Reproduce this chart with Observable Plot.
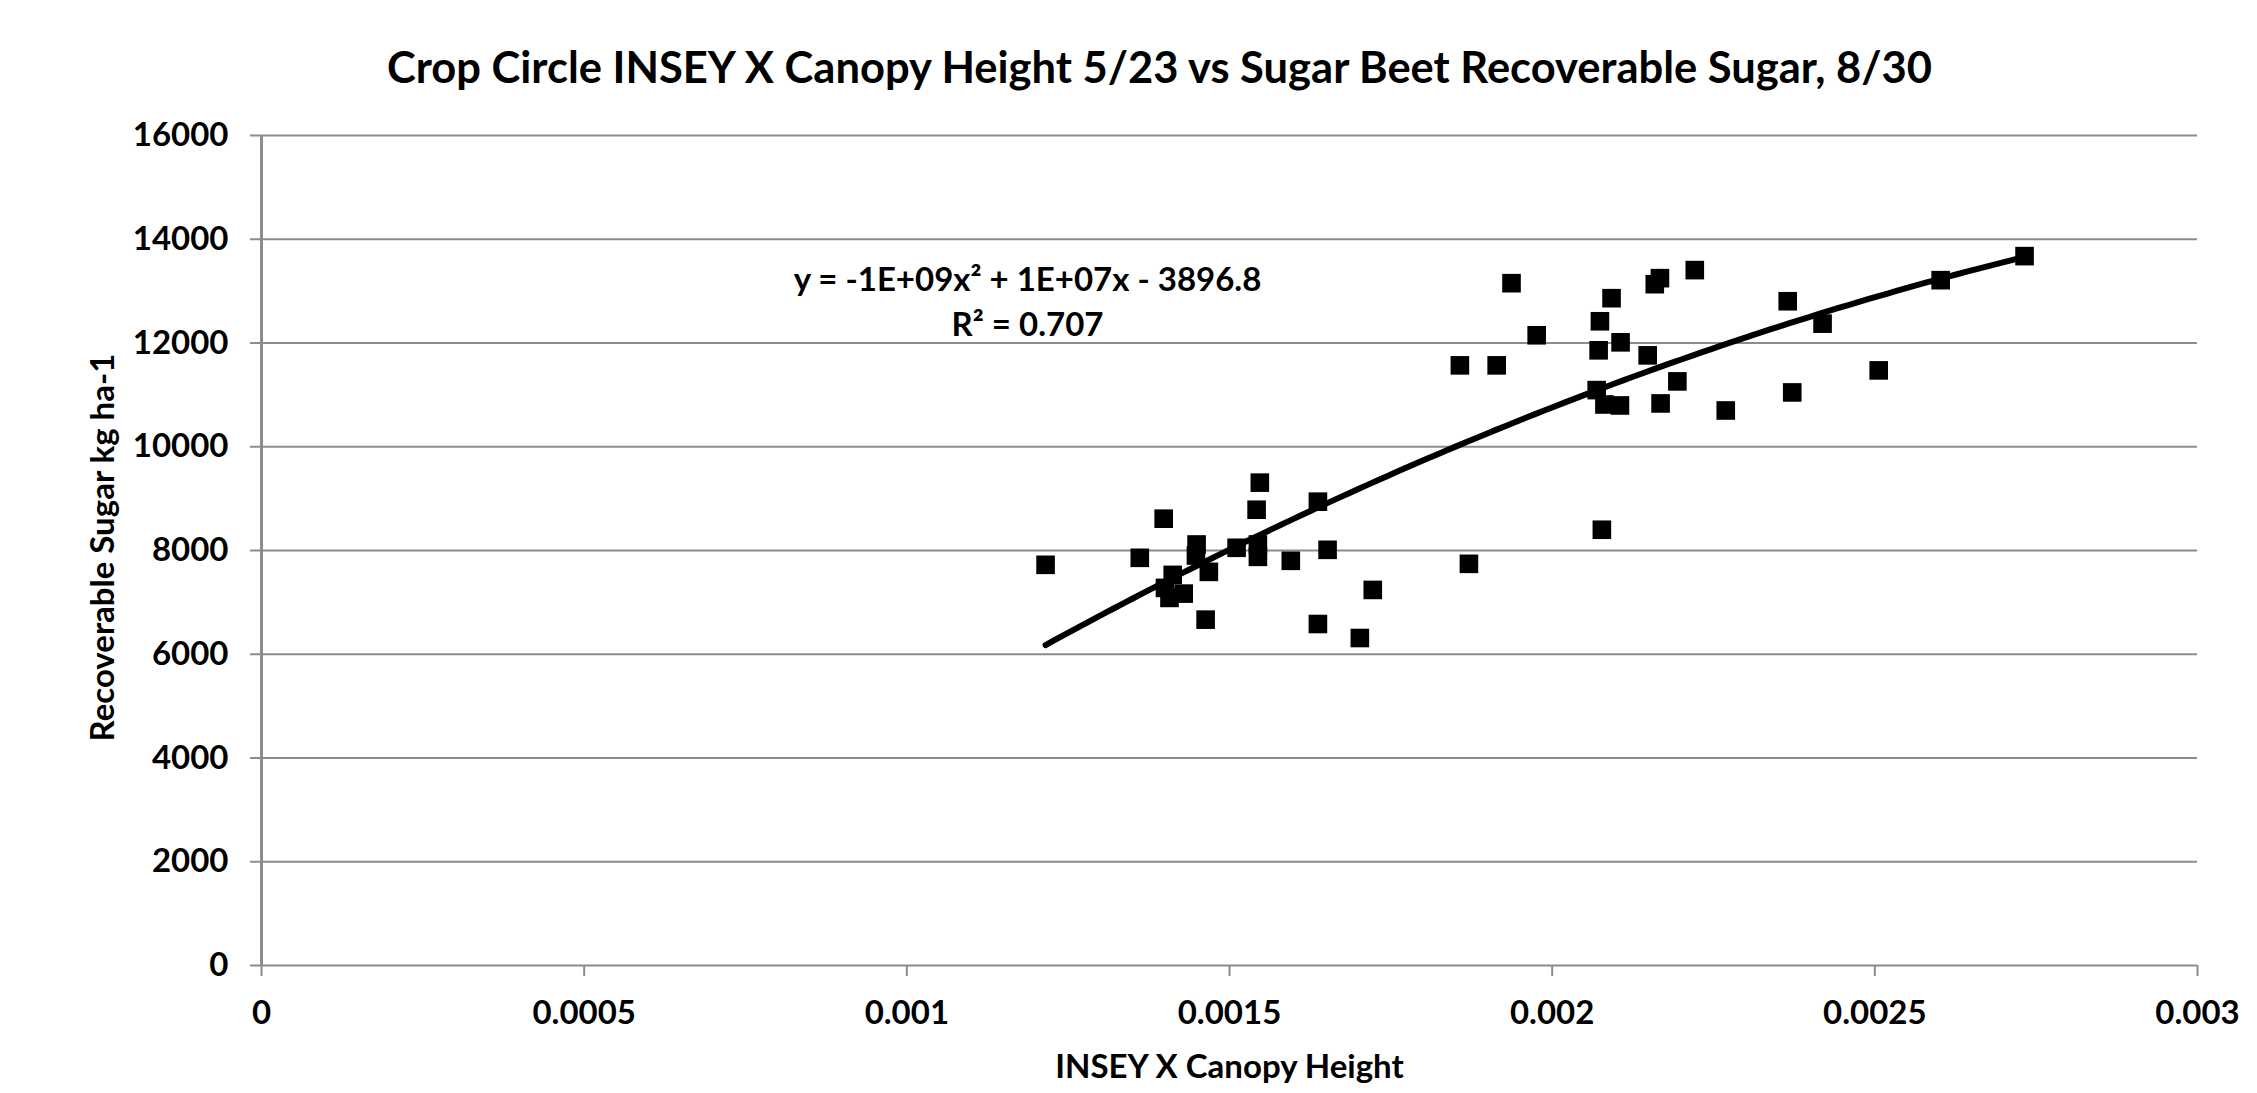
<!DOCTYPE html>
<html><head><meta charset="utf-8">
<script src="https://cdn.jsdelivr.net/npm/d3@7"></script>
<script src="https://cdn.jsdelivr.net/npm/@observablehq/plot@0.6"></script>
<style>
body{margin:0;background:#fff;}
svg text{font-family:Lato, "Open Sans", sans-serif;font-weight:700;}
</style>
</head><body><div id="chart"></div>
<script>
const title = "Crop Circle INSEY X Canopy Height 5/23 vs Sugar Beet Recoverable Sugar, 8/30";
const xLabel = "INSEY X Canopy Height";
const yLabel = "Recoverable Sugar kg ha-1";
const equationLines = ["y = -1E+09x\u00B2 + 1E+07x - 3896.8", "R\u00B2 = 0.707"];
const xTicks = [0, 0.0005, 0.001, 0.0015, 0.002, 0.0025, 0.003];
const xTickLabels = ["0", "0.0005", "0.001", "0.0015", "0.002", "0.0025", "0.003"];
const yTicks = [0, 2000, 4000, 6000, 8000, 10000, 12000, 14000, 16000];

const insey = [0.001215, 0.001361, 0.001398, 0.001449, 0.001448, 0.001468, 0.001412, 0.001400,
  0.001407, 0.001429, 0.001463, 0.001511, 0.001547, 0.001542, 0.001544, 0.001544,
  0.001595, 0.001637, 0.001652, 0.001722, 0.001637, 0.001702, 0.001937, 0.001857,
  0.001914, 0.001976, 0.002092, 0.002074, 0.002072, 0.002106, 0.002148, 0.002167,
  0.002159, 0.002221, 0.002365, 0.002069, 0.002081, 0.002105, 0.002194, 0.002168,
  0.002269, 0.002372, 0.002077, 0.001871, 0.002419, 0.002602, 0.002732, 0.002506];
const sugar = [7724, 7859, 8613, 8116, 7903, 7588, 7530, 7279,
  7086, 7169, 6667, 8052, 9308, 8786, 8116, 7878,
  7801, 8941, 8013, 7240, 6583, 6313, 13153, 11569,
  11569, 12149, 12864, 12419, 11859, 12013, 11762, 13250,
  13134, 13405, 12805, 11092, 10815, 10796, 11260, 10835,
  10699, 11047, 8400, 7743, 12373, 13211, 13675, 11472];

const points = insey.map((x, i) => ({x, y: sugar[i]}));

// Polynomial (order 2) least-squares trend line, as in the spreadsheet
function quadFit(xs, ys) {
  const s = [0,0,0,0,0], t = [0,0,0];
  xs.forEach((x, i) => {
    const u = x * 1000;
    for (let k = 0; k < 5; k++) s[k] += Math.pow(u, k);
    for (let k = 0; k < 3; k++) t[k] += ys[i] * Math.pow(u, k);
  });
  const A = [[s[0], s[1], s[2], t[0]], [s[1], s[2], s[3], t[1]], [s[2], s[3], s[4], t[2]]];
  for (let c = 0; c < 3; c++) {
    for (let r = c + 1; r < 3; r++) {
      const f = A[r][c] / A[c][c];
      for (let k = c; k < 4; k++) A[r][k] -= f * A[c][k];
    }
  }
  const b = [0,0,0];
  for (let r = 2; r >= 0; r--) {
    let v = A[r][3];
    for (let k = r + 1; k < 3; k++) v -= A[r][k] * b[k];
    b[r] = v / A[r][r];
  }
  return x => { const u = x * 1000; return b[0] + b[1] * u + b[2] * u * u; };
}
const fit = quadFit(insey, sugar);
const [xmin, xmax] = d3.extent(insey);
const trend = d3.range(0, 101).map(i => {
  const x = xmin + (xmax - xmin) * i / 100;
  return {x, y: fit(x)};
});

const gridColor = "#8c8c8c";

const chart = Plot.plot({
  width: 2257,
  height: 1093,
  marginLeft: 261,
  marginRight: 60,
  marginTop: 135,
  marginBottom: 128,
  style: {fontFamily: "Lato, sans-serif", fontSize: "33px", background: "#fff"},
  x: {domain: [0, 0.003]},
  y: {domain: [0, 16000]},
  marks: [
    Plot.ruleY(yTicks, {stroke: gridColor, strokeWidth: 2}),
    Plot.ruleX([0], {stroke: gridColor, strokeWidth: 3}),
    Plot.axisY({ticks: yTicks, tickSize: 11, tickPadding: 22, stroke: gridColor, strokeWidth: 2,
      fill: "black", fontSize: 33, fontWeight: 700, label: null, tickFormat: d => String(d)}),
    Plot.axisX({ticks: xTicks, tickSize: 11, tickPadding: 24, stroke: gridColor, strokeWidth: 2,
      fill: "black", fontSize: 33, fontWeight: 700, label: null,
      tickFormat: d => xTickLabels[xTicks.indexOf(d)]}),
    Plot.line(trend, {x: "x", y: "y", stroke: "black", strokeWidth: 6, strokeLinecap: "round"}),
    Plot.dot(points, {x: "x", y: "y", symbol: "square", r: 10.5, fill: "black", stroke: "none"}),
    Plot.text([equationLines[0]], {x: () => 0.001187, y: () => 13200, text: d => d,
      fontSize: 33, fontWeight: 700, fill: "black"}),
    Plot.text([equationLines[1]], {x: () => 0.001187, y: () => 12330, text: d => d,
      fontSize: 33, fontWeight: 700, fill: "black"}),
    Plot.text([title], {frameAnchor: "top", lineAnchor: "middle", textAnchor: "middle", dy: -66, dx: -70,
      text: d => d, fontSize: 43.5, fontWeight: 700, fill: "black"}),
    Plot.text([xLabel], {frameAnchor: "bottom", lineAnchor: "middle", textAnchor: "middle", dy: 102,
      text: d => d, fontSize: 33, fontWeight: 700, fill: "black"}),
    Plot.text([yLabel], {frameAnchor: "left", lineAnchor: "middle", textAnchor: "middle", dx: -158, dy: -3,
      rotate: -90, text: d => d, fontSize: 33, fontWeight: 700, fill: "black"})
  ]
});
document.getElementById("chart").appendChild(chart);
</script>
</body></html>
